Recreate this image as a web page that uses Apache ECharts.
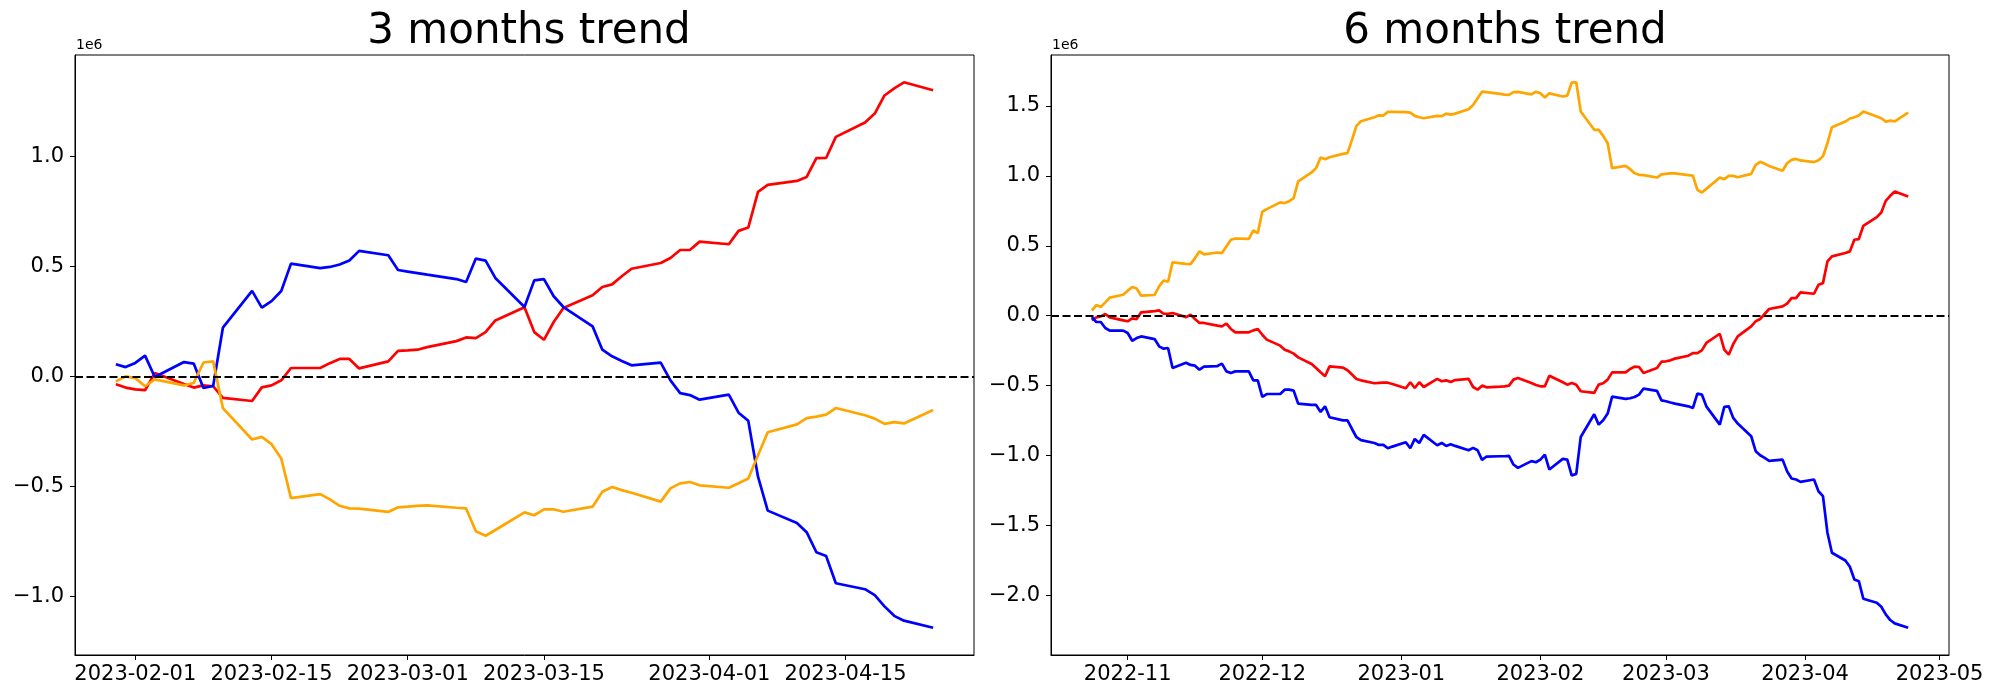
<!DOCTYPE html>
<html><head><meta charset="utf-8">
<script src="https://cdn.jsdelivr.net/npm/echarts@6/dist/echarts.min.js"></script>
<style>html,body{margin:0;padding:0;background:#fff}#c{width:2000px;height:700px}</style>
</head><body><div id="c"></div>
<script>
// ---------- data (values in units of 1e6) ----------
const leftTitle = '3 months trend';
const rightTitle = '6 months trend';
const leftStart = '2023-01-30', leftEnd = '2023-04-24';   // every weekday
const rightStart = '2022-10-24', rightEnd = '2023-04-24'; // every weekday
const leftXTicks = ['2023-02-01','2023-02-15','2023-03-01','2023-03-15','2023-04-01','2023-04-15'];
const rightXTicks = ['2022-11-01','2022-12-01','2023-01-01','2023-02-01','2023-03-01','2023-04-01','2023-05-01'];
const leftYTicks = [-1.0,-0.5,0.0,0.5,1.0];
const rightYTicks = [-2.0,-1.5,-1.0,-0.5,0.0,0.5,1.0,1.5];

const leftRed = [
 -0.036,-0.051,-0.059,-0.063, 0.015,
 -0.035,-0.051,-0.041,-0.045,-0.098,
 -0.112,-0.050,-0.041,-0.018, 0.038,
  0.038, 0.060, 0.079, 0.079, 0.036,
  0.068, 0.116, 0.118, 0.121, 0.133,
  0.160, 0.177, 0.174, 0.201, 0.254,
  0.314, 0.201, 0.166, 0.247, 0.311,
  0.368, 0.406, 0.418, 0.455, 0.489,
  0.515, 0.538, 0.574, 0.574, 0.612,
  0.600, 0.661, 0.676, 0.838, 0.870,
  0.888, 0.906, 0.991, 0.992, 1.088,
  1.153, 1.194, 1.276, 1.308, 1.336,
  1.300];
const leftBlue = [
  0.055, 0.042, 0.061, 0.094,-0.003,
  0.065, 0.058,-0.053,-0.044, 0.221,
  0.388, 0.312, 0.342, 0.388, 0.512,
  0.492, 0.497, 0.508, 0.526, 0.570,
  0.550, 0.483, 0.476, 0.469, 0.462,
  0.442, 0.429, 0.535, 0.526, 0.447,
  0.315, 0.436, 0.442, 0.364, 0.315,
  0.227, 0.121, 0.091, 0.070, 0.050,
  0.062,-0.018,-0.076,-0.085,-0.106,
 -0.083,-0.165,-0.202,-0.456,-0.610,
 -0.666,-0.708,-0.799,-0.816,-0.940,
 -0.967,-0.994,-1.045,-1.088,-1.110,
 -1.142];
const leftOrange = [
 -0.023, 0.000,-0.008,-0.045,-0.014,
 -0.041,-0.030, 0.063, 0.068,-0.144,
 -0.287,-0.275,-0.308,-0.373,-0.553,
 -0.535,-0.559,-0.588,-0.600,-0.601,
 -0.616,-0.595,-0.592,-0.588,-0.586,
 -0.597,-0.600,-0.704,-0.724,-0.698,
 -0.618,-0.631,-0.604,-0.604,-0.615,
 -0.592,-0.524,-0.503,-0.517,-0.529,
 -0.569,-0.509,-0.486,-0.480,-0.495,
 -0.506,-0.486,-0.464,-0.358,-0.254,
 -0.218,-0.190,-0.183,-0.174,-0.144,
 -0.177,-0.192,-0.216,-0.208,-0.214,
 -0.153];

const rightRed = [
 -0.033,-0.012,-0.005, 0.012,-0.012,
 -0.033,-0.040,-0.019,-0.024, 0.024,
  0.033, 0.038, 0.014, 0.014, 0.019,
 -0.010, 0.007,-0.024,-0.052,-0.052,
 -0.071,-0.076,-0.057,-0.095,-0.119,
 -0.119,-0.105,-0.095,-0.136,-0.171,
 -0.214,-0.243,-0.255,-0.271,-0.298,
 -0.345,-0.374,-0.405,-0.433,-0.362,
 -0.371,-0.390,-0.421,-0.452,-0.462,
 -0.483,-0.481,-0.479,-0.479,-0.488,
 -0.519,-0.476,-0.517,-0.476,-0.510,
 -0.452,-0.469,-0.462,-0.474,-0.460,
 -0.452,-0.510,-0.529,-0.500,-0.512,
 -0.507,-0.505,-0.500,-0.457,-0.445,
 -0.481,-0.495,-0.505,-0.505,-0.429,
 -0.476,-0.493,-0.481,-0.493,-0.540,
 -0.552,-0.493,-0.483,-0.457,-0.405,
 -0.405,-0.381,-0.364,-0.367,-0.410,
 -0.374,-0.329,-0.326,-0.319,-0.307,
 -0.286,-0.267,-0.267,-0.248,-0.195,
 -0.129,-0.243,-0.279,-0.202,-0.148,
 -0.076,-0.040,-0.024, 0.012, 0.048,
  0.067, 0.086, 0.126, 0.126, 0.167,
  0.157, 0.221, 0.233, 0.388, 0.424,
  0.448, 0.460, 0.543, 0.548, 0.643,
  0.705, 0.738, 0.821, 0.857, 0.888,
  0.852];
const rightBlue = [
 -0.010,-0.045,-0.045,-0.088,-0.107,
 -0.107,-0.124,-0.179,-0.160,-0.148,
 -0.167,-0.219,-0.236,-0.231,-0.374,
 -0.336,-0.352,-0.357,-0.386,-0.364,
 -0.360,-0.343,-0.398,-0.410,-0.398,
 -0.398,-0.462,-0.462,-0.581,-0.560,
 -0.560,-0.529,-0.529,-0.536,-0.629,
 -0.638,-0.638,-0.688,-0.648,-0.726,
 -0.748,-0.748,-0.810,-0.869,-0.890,
 -0.910,-0.924,-0.924,-0.948,-0.936,
 -0.905,-0.948,-0.881,-0.910,-0.852,
 -0.926,-0.910,-0.931,-0.919,-0.931,
 -0.962,-0.945,-0.962,-1.031,-1.007,
 -1.005,-1.005,-1.002,-1.064,-1.088,
 -1.040,-1.048,-1.029,-0.993,-1.100,
 -1.024,-1.029,-1.143,-1.131,-0.867,
 -0.705,-0.779,-0.748,-0.700,-0.579,
 -0.595,-0.590,-0.581,-0.564,-0.521,
 -0.538,-0.605,-0.612,-0.621,-0.629,
 -0.648,-0.660,-0.557,-0.564,-0.648,
 -0.779,-0.652,-0.648,-0.731,-0.771,
 -0.862,-0.969,-0.998,-1.017,-1.038,
 -1.029,-1.112,-1.164,-1.171,-1.188,
 -1.171,-1.255,-1.290,-1.552,-1.695,
 -1.750,-1.795,-1.886,-1.898,-2.024,
 -2.052,-2.081,-2.136,-2.176,-2.200,
 -2.231];
const rightOrange = [
  0.036, 0.076, 0.062, 0.095, 0.129,
  0.150, 0.179, 0.205, 0.195, 0.143,
  0.148, 0.210, 0.252, 0.243, 0.381,
  0.371, 0.369, 0.412, 0.460, 0.438,
  0.452, 0.448, 0.495, 0.543, 0.552,
  0.550, 0.610, 0.590, 0.743, 0.762,
  0.810, 0.805, 0.819, 0.840, 0.960,
  1.024, 1.055, 1.131, 1.119, 1.133,
  1.157, 1.162, 1.257, 1.357, 1.390,
  1.419, 1.433, 1.431, 1.457, 1.457,
  1.455, 1.452, 1.429, 1.419, 1.412,
  1.429, 1.426, 1.445, 1.438, 1.445,
  1.476, 1.507, 1.555, 1.602, 1.598,
  1.586, 1.581, 1.579, 1.598, 1.600,
  1.583, 1.602, 1.590, 1.560, 1.590,
  1.567, 1.574, 1.667, 1.669, 1.460,
  1.329, 1.329, 1.286, 1.233, 1.055,
  1.071, 1.048, 1.019, 1.007, 1.005,
  0.988, 1.010, 1.014, 1.017, 1.017,
  1.005, 1.002, 0.900, 0.881, 0.907,
  0.988, 0.976, 1.000, 1.000, 0.990,
  1.014, 1.079, 1.100, 1.086, 1.071,
  1.036, 1.090, 1.114, 1.121, 1.110,
  1.098, 1.112, 1.140, 1.233, 1.348,
  1.388, 1.410, 1.419, 1.431, 1.460,
  1.424, 1.412, 1.388, 1.395, 1.390,
  1.452];

// ---------- helpers ----------
const DAY = 86400000;
function ts(s){ const p = s.split('-').map(Number); return Date.UTC(p[0], p[1]-1, p[2]); }
function weekdays(s, e){
  const out = []; for (let t = ts(s); t <= ts(e); t += DAY){ const d = new Date(t).getUTCDay(); if (d !== 0 && d !== 6) out.push(t); }
  return out;
}
const leftDates = weekdays(leftStart, leftEnd);
const rightDates = weekdays(rightStart, rightEnd);
function pairs(dates, vals){ return vals.map((v,i)=>[dates[i], v]); }
function pad(n){ return (n<10?'0':'')+n; }
function fmtDay(v){ const d=new Date(v); return d.getUTCFullYear()+'-'+pad(d.getUTCMonth()+1)+'-'+pad(d.getUTCDate()); }
function fmtMonth(v){ const d=new Date(v); return d.getUTCFullYear()+'-'+pad(d.getUTCMonth()+1); }
function fmtY(v){ const s = Math.abs(v).toFixed(1); return (v < -1e-9 ? '\u2212' : '') + s; }
function xRange(dates){ const a=dates[0], b=dates[dates.length-1], m=(b-a)*0.05; return [a-m, b+m]; }
function yRange(arrs){ const all=[].concat(...arrs); const a=Math.min(...all), b=Math.max(...all), m=(b-a)*0.05; return [a-m, b+m]; }

const FONT = 'DejaVu Sans';
const lx = xRange(leftDates), rx = xRange(rightDates);
const ly = yRange([leftRed,leftBlue,leftOrange]), ry = yRange([rightRed,rightBlue,rightOrange]);

function xAxis(gi, range, ticks, fmt){
  const vals = ticks.map(ts);
  return { type:'value', gridIndex:gi, min:range[0], max:range[1], scale:true,
    axisLine:{show:true, onZero:false, lineStyle:{color:'#000', width:1}},
    axisTick:{show:true, length:5, customValues:vals, lineStyle:{color:'#000', width:1}},
    axisLabel:{show:true, customValues:vals, formatter:fmt, color:'#000', fontSize:21, fontFamily:FONT, margin:9},
    splitLine:{show:false} };
}
function yAxis(gi, range, ticks){
  return { type:'value', gridIndex:gi, min:range[0], max:range[1], scale:true,
    axisLine:{show:true, onZero:false, lineStyle:{color:'#000', width:1}},
    axisTick:{show:true, length:5, customValues:ticks, lineStyle:{color:'#000', width:1}},
    axisLabel:{show:true, customValues:ticks, formatter:fmtY, color:'#000', fontSize:21, fontFamily:FONT, margin:11},
    splitLine:{show:false} };
}
function line(gi, data, color, withZero){
  const s = { type:'line', xAxisIndex:gi, yAxisIndex:gi, data:data, showSymbol:false, symbol:'none',
    lineStyle:{color:color, width:2.7}, itemStyle:{color:color}, animation:false, silent:true, clip:true };
  if (withZero) s.markLine = { silent:true, symbol:'none', label:{show:false}, animation:false,
    lineStyle:{color:'#000', width:2, type:[8,3.5]}, data:[{yAxis:0}] };
  return s;
}

const chart = echarts.init(document.getElementById('c'), null, {renderer:'canvas'});
chart.setOption({
  backgroundColor:'#fff',
  animation:false,
  title:[
    {text:leftTitle, left:524, top:6, textAlign:'center', textStyle:{fontSize:42, fontWeight:'normal', fontFamily:FONT, color:'#000'}},
    {text:rightTitle, left:1500, top:6, textAlign:'center', textStyle:{fontSize:42, fontWeight:'normal', fontFamily:FONT, color:'#000'}}
  ],
  grid:[
    {left:75, right:1026, top:55, bottom:45, show:true, borderColor:'#000', borderWidth:1, backgroundColor:'transparent', containLabel:false},
    {left:1051, right:51, top:55, bottom:45, show:true, borderColor:'#000', borderWidth:1, backgroundColor:'transparent', containLabel:false}
  ],
  xAxis:[ xAxis(0, lx, leftXTicks, fmtDay), xAxis(1, rx, rightXTicks, fmtMonth) ],
  yAxis:[ yAxis(0, ly, leftYTicks), yAxis(1, ry, rightYTicks) ],
  graphic:[
    {type:'text', left:76, top:38, style:{text:'1e6', font:'14px "DejaVu Sans"', fill:'#000'}},
    {type:'text', left:1052, top:38, style:{text:'1e6', font:'14px "DejaVu Sans"', fill:'#000'}}
  ],
  series:[
    line(0, pairs(leftDates, leftRed), '#ff0000'),
    line(0, pairs(leftDates, leftBlue), '#0000ff'),
    line(0, pairs(leftDates, leftOrange), '#ffa500', true),
    line(1, pairs(rightDates, rightRed), '#ff0000'),
    line(1, pairs(rightDates, rightBlue), '#0000ff'),
    line(1, pairs(rightDates, rightOrange), '#ffa500', true)
  ]
});
</script></body></html>
